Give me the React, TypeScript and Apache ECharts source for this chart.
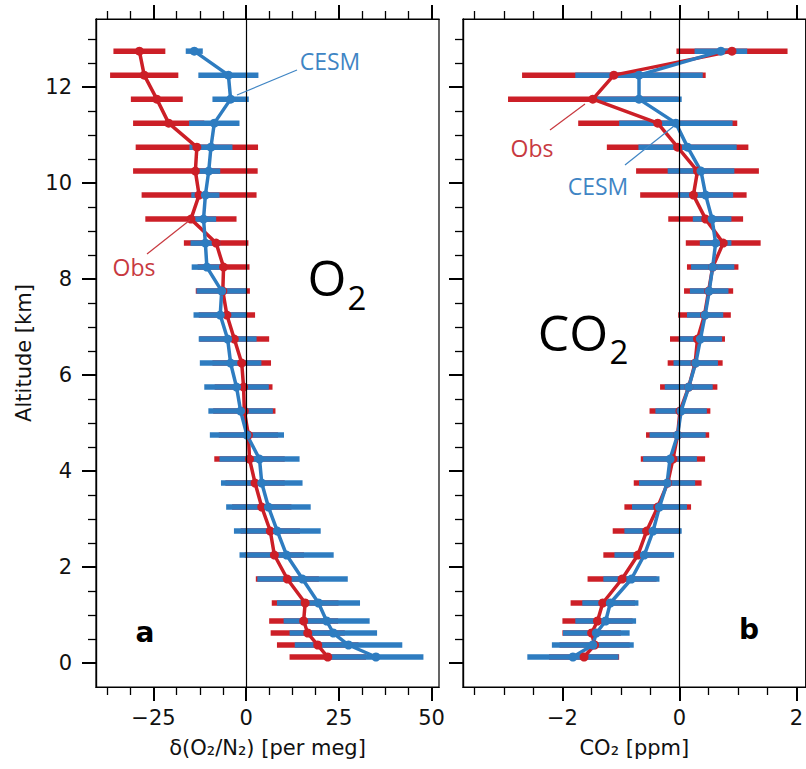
import React, { useEffect, useRef } from 'react';
import * as echarts from 'echarts';

// Altitude levels of the profile bins [km]
const ALTITUDE = [12.75, 12.25, 11.75, 11.25, 10.75, 10.25, 9.75, 9.25, 8.75, 8.25, 7.75, 7.25, 6.75, 6.25, 5.75, 5.25, 4.75, 4.25, 3.75, 3.25, 2.75, 2.25, 1.75, 1.25, 0.875, 0.625, 0.375, 0.125];

// δ(O2/N2) [per meg]
const O2_OBS = [-28.8, -27.5, -24.1, -20.9, -13.3, -13.7, -12.7, -14.9, -8.1, -6.1, -6.3, -5.2, -3.2, -1.2, -0.7, -0.5, 0.6, 0.9, 2.4, 4.2, 6.5, 7.6, 11.1, 15.9, 15.5, 16.6, 19.3, 22.0];
const O2_OBS_ERR = [7.0, 9.2, 7.0, 9.6, 16.5, 16.8, 15.5, 12.3, 8.7, 7.0, 7.3, 7.6, 9.4, 7.9, 7.8, 8.4, 8.0, 9.5, 8.0, 8.0, 8.0, 8.0, 8.5, 9.0, 9.3, 10.0, 11.0, 10.3];
const O2_CESM = [-14.0, -4.8, -4.2, -8.6, -9.5, -10.1, -11.0, -11.5, -11.0, -10.6, -6.6, -7.0, -5.0, -4.2, -2.6, -1.5, 0.2, 3.6, 4.2, 6.0, 8.4, 10.9, 15.2, 19.5, 21.7, 23.5, 27.6, 35.0];
const O2_CESM_ERR = [2.3, 8.1, 4.9, 6.8, 5.8, 3.1, 3.8, 3.4, 4.0, 4.1, 6.8, 7.2, 7.8, 8.3, 8.7, 8.7, 10.0, 10.8, 11.0, 11.4, 11.7, 12.7, 12.2, 11.2, 11.6, 11.8, 14.5, 12.8];

// CO2 [ppm]
const CO2_OBS = [0.90, -1.12, -1.48, -0.37, -0.03, 0.31, 0.24, 0.45, 0.75, 0.57, 0.50, 0.43, 0.31, 0.27, 0.16, 0.01, -0.03, -0.11, -0.20, -0.37, -0.56, -0.71, -0.98, -1.31, -1.40, -1.50, -1.45, -1.63];
const CO2_OBS_ERR = [0.95, 1.57, 1.45, 1.36, 1.21, 1.05, 0.91, 0.64, 0.64, 0.44, 0.42, 0.45, 0.47, 0.47, 0.49, 0.52, 0.54, 0.55, 0.58, 0.57, 0.58, 0.59, 0.59, 0.55, 0.60, 0.50, 0.60, 0.60];
const CO2_CESM = [0.71, -0.69, -0.69, -0.06, 0.14, 0.37, 0.45, 0.56, 0.62, 0.57, 0.51, 0.44, 0.36, 0.28, 0.16, 0.03, -0.03, -0.16, -0.21, -0.34, -0.45, -0.60, -0.82, -1.18, -1.26, -1.42, -1.48, -1.82];
const CO2_CESM_ERR = [0.45, 1.09, 0.73, 0.97, 0.84, 0.57, 0.47, 0.33, 0.27, 0.37, 0.33, 0.31, 0.37, 0.38, 0.41, 0.44, 0.48, 0.46, 0.48, 0.47, 0.49, 0.51, 0.48, 0.48, 0.52, 0.57, 0.70, 0.78];

// Tick positions
const O2_MAJOR = [-25, 0, 25, 50];
const O2_MINOR = [-37.5, -31.25, -18.75, -12.5, -6.25, 6.25, 12.5, 18.75, 31.25, 37.5, 43.75];
const CO2_MAJOR = [-2, 0, 2];
const CO2_MINOR = [-3.5, -3, -2.5, -1.5, -1, -0.5, 0.5, 1, 1.5];
const ALT_MAJOR = [0, 2, 4, 6, 8, 10, 12];
const ALT_MINOR = [0.5, 1, 1.5, 2.5, 3, 3.5, 4.5, 5, 5.5, 6.5, 7, 7.5, 8.5, 9, 9.5, 10.5, 11, 11.5, 12.5, 13];

const O2_RANGE = [-40.5, 52.0];
const CO2_RANGE = [-3.7, 2.16];
const ALT_RANGE = [-0.5, 13.42];

const RED = '#cc1f27';
const BLUE = '#2e7cc0';
const RED_NOTE = '#c8393f';
const BLUE_NOTE = '#3f85c4';
const TICK_FONT = 'DejaVu Sans';
const NOTE_FONT = 'Open Sans';

const minus = (v: number) => (v < 0 ? '\u2212' + Math.abs(v) : String(v));

function xAxesFor(grid: number, range: number[], major: number[], minor: number[], name: string) {
  const base = {
    gridIndex: grid,
    type: 'value',
    min: range[0],
    max: range[1],
    splitLine: { show: false },
    axisLine: { show: true, onZero: false, lineStyle: { color: '#000', width: 1.2 } },
  };
  return [
    {
      ...base,
      position: 'bottom',
      axisTick: { show: true, inside: false, length: 14, customValues: major, lineStyle: { color: '#000', width: 2 } },
      axisLabel: { show: true, customValues: major, formatter: minus, fontSize: 21, fontFamily: TICK_FONT, color: '#111', margin: 20 },
      name,
      nameLocation: 'middle',
      nameGap: 50,
      nameTextStyle: { fontSize: 21, fontFamily: TICK_FONT, color: '#111' },
    },
    {
      ...base,
      position: 'bottom',
      axisTick: { show: true, inside: false, length: 8, customValues: minor, lineStyle: { color: '#000', width: 1.3 } },
      axisLabel: { show: false },
    },
    {
      ...base,
      position: 'top',
      axisTick: { show: true, inside: false, length: 14, customValues: major, lineStyle: { color: '#000', width: 2 } },
      axisLabel: { show: false },
    },
    {
      ...base,
      position: 'top',
      axisTick: { show: true, inside: false, length: 8, customValues: minor, lineStyle: { color: '#000', width: 1.3 } },
      axisLabel: { show: false },
    },
  ];
}

function yAxesFor(grid: number, withLabels: boolean) {
  const base = {
    gridIndex: grid,
    type: 'value',
    min: ALT_RANGE[0],
    max: ALT_RANGE[1],
    position: 'left',
    splitLine: { show: false },
    axisLine: { show: true, onZero: false, lineStyle: { color: '#000', width: 1.2 } },
  };
  return [
    {
      ...base,
      axisTick: { show: true, inside: false, length: 14, customValues: ALT_MAJOR, lineStyle: { color: '#000', width: 2 } },
      axisLabel: withLabels
        ? { show: true, customValues: ALT_MAJOR, fontSize: 21, fontFamily: TICK_FONT, color: '#111', margin: 24 }
        : { show: false },
      name: withLabels ? 'Altitude [km]' : '',
      nameLocation: 'middle',
      nameRotate: 90,
      nameGap: 62,
      nameTextStyle: { fontSize: 21, fontFamily: TICK_FONT, color: '#111' },
    },
    {
      ...base,
      axisTick: { show: true, inside: false, length: 8, customValues: ALT_MINOR, lineStyle: { color: '#000', width: 1.3 } },
      axisLabel: { show: false },
    },
  ];
}

function errorBars(xi: number, yi: number, means: number[], errs: number[], color: string) {
  return {
    type: 'custom',
    xAxisIndex: xi,
    yAxisIndex: yi,
    silent: true,
    clip: false,
    data: means.map((m, i) => [m, ALTITUDE[i], errs[i]]),
    encode: { x: 0, y: 1 },
    renderItem: (_params: any, api: any) => {
      const x = api.value(0);
      const y = api.value(1);
      const e = api.value(2);
      const a = api.coord([x - e, y]);
      const b = api.coord([x + e, y]);
      return {
        type: 'line',
        shape: { x1: a[0], y1: a[1], x2: b[0], y2: b[1] },
        style: { stroke: color, lineWidth: 5.5, lineCap: 'butt' },
      };
    },
  };
}

function profile(xi: number, yi: number, means: number[], color: string, zeroLine: boolean) {
  const s: any = {
    type: 'line',
    xAxisIndex: xi,
    yAxisIndex: yi,
    silent: true,
    data: means.map((m, i) => [m, ALTITUDE[i]]),
    symbol: 'circle',
    symbolSize: 9,
    showAllSymbol: true,
    lineStyle: { color, width: 3.5 },
    itemStyle: { color },
  };
  if (zeroLine) {
    s.markLine = {
      silent: true,
      symbol: ['none', 'none'],
      label: { show: false },
      lineStyle: { color: '#000', width: 1.2, type: 'solid' },
      data: [{ xAxis: 0 }],
    };
  }
  return s;
}

function note(text: string, x: number, y: number, color: string, size: number, font = NOTE_FONT, weight = 'normal') {
  return {
    type: 'text',
    x,
    y,
    silent: true,
    z: 50,
    style: {
      text,
      fill: color,
      fontSize: size,
      fontFamily: font,
      fontWeight: weight,
      align: 'center',
      verticalAlign: 'middle',
      textAlign: 'center',
      textVerticalAlign: 'middle',
    },
  };
}

function leader(x1: number, y1: number, x2: number, y2: number, color: string) {
  return {
    type: 'line',
    silent: true,
    z: 50,
    shape: { x1, y1, x2, y2 },
    style: { stroke: color, lineWidth: 1.2 },
  };
}

export default function App() {
  const ref = useRef<HTMLDivElement>(null);

  useEffect(() => {
    if (!ref.current) return;
    const chart = echarts.init(ref.current, null, { renderer: 'svg' });

    const option: any = {
      animation: false,
      backgroundColor: '#fff',
      grid: [
        { left: 96, top: 19, width: 343, height: 668, show: true, borderColor: '#000', borderWidth: 1.2, containLabel: false },
        { left: 463, top: 19, width: 344, height: 668, show: true, borderColor: '#000', borderWidth: 1.2, containLabel: false },
      ],
      xAxis: [
        ...xAxesFor(0, O2_RANGE, O2_MAJOR, O2_MINOR, 'δ(O\u2082/N\u2082) [per meg]'),
        ...xAxesFor(1, CO2_RANGE, CO2_MAJOR, CO2_MINOR, 'CO\u2082 [ppm]'),
      ],
      yAxis: [...yAxesFor(0, true), ...yAxesFor(1, false)],
      series: [
        errorBars(0, 0, O2_OBS, O2_OBS_ERR, RED),
        errorBars(0, 0, O2_CESM, O2_CESM_ERR, BLUE),
        profile(0, 0, O2_OBS, RED, true),
        profile(0, 0, O2_CESM, BLUE, false),
        errorBars(4, 2, CO2_OBS, CO2_OBS_ERR, RED),
        errorBars(4, 2, CO2_CESM, CO2_CESM_ERR, BLUE),
        profile(4, 2, CO2_OBS, RED, true),
        profile(4, 2, CO2_CESM, BLUE, false),
      ],
      graphic: [
        note('O', 327, 277, '#000', 50),
        note('2', 357, 297, '#000', 33),
        note('CO', 573, 332, '#000', 50),
        note('2', 619, 351, '#000', 33),
        note('a', 145, 632, '#000', 28, TICK_FONT, 'bold'),
        note('b', 749, 629, '#000', 28, TICK_FONT, 'bold'),
        note('CESM', 330, 61, BLUE_NOTE, 23),
        leader(297, 70, 237, 95, BLUE_NOTE),
        note('Obs', 134, 267, RED_NOTE, 23),
        leader(147, 254, 190, 220, RED_NOTE),
        note('Obs', 532, 148, RED_NOTE, 23),
        leader(550, 130, 585, 104, RED_NOTE),
        note('CESM', 598, 186, BLUE_NOTE, 23),
        leader(625, 165, 674, 126, BLUE_NOTE),
      ],
    };

    chart.setOption(option);
    return () => chart.dispose();
  }, []);

  return (
    <div
      ref={ref}
      style={{ position: 'absolute', left: 0, top: 0, width: 806, height: 769, background: '#fff' }}
    />
  );
}
